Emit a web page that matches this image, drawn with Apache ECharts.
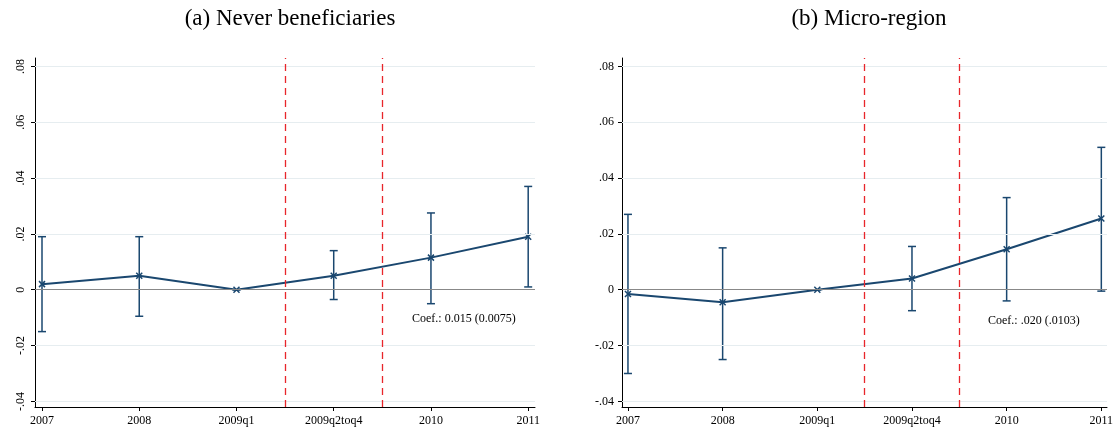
<!DOCTYPE html>
<html>
<head>
<meta charset="utf-8">
<script src="https://cdn.jsdelivr.net/npm/echarts@6/dist/echarts.min.js"></script>
</head>
<body style="margin:0;background:#fff">
<div id="chart" style="width:1117px;height:441px"></div>
<script>
var categories = ['2007', '2008', '2009q1', '2009q2toq4', '2010', '2011'];
var coefA = [0.002, 0.005, 0, 0.005, 0.0115, 0.019];
var lowA = [-0.015, -0.0095, 0, -0.0035, -0.005, 0.001];
var highA = [0.019, 0.019, 0, 0.014, 0.0275, 0.037];
var coefB = [-0.0015, -0.0045, 0, 0.004, 0.0145, 0.0255];
var lowB = [-0.030, -0.025, 0, -0.0075, -0.004, -0.0005];
var highB = [0.027, 0.015, 0, 0.0155, 0.033, 0.051];
var yTicks = [-0.04, -0.02, 0, 0.02, 0.04, 0.06, 0.08];
var vlines = [2.5, 3.5];
var navy = '#1a476f';
var serif = 'Liberation Serif';

function fmt(v) {
    if (v === 0) return '0';
    return (v < 0 ? '-' : '') + String(Math.abs(v).toFixed(2)).replace(/^0/, '');
}

function panel(i, left, width, xmin, xmax, rot) {
    return {
        grid: { left: left, top: 58, width: width, height: 349 },
        xAxis: {
            gridIndex: i, type: 'value', min: xmin, max: xmax, interval: 1,
            axisLine: { show: true, onZero: false, lineStyle: { color: '#000' } },
            axisTick: { show: true, length: 4, lineStyle: { color: '#000' }, customValues: [0, 1, 2, 3, 4, 5] },
            axisLabel: { color: '#000', fontFamily: serif, fontSize: 12, customValues: [0, 1, 2, 3, 4, 5],
                formatter: function (v) { return categories[Math.round(v)]; } },
            splitLine: { show: false }
        },
        yAxis: {
            gridIndex: i, type: 'value', min: -0.042, max: 0.083,
            axisLine: { show: true, onZero: false, lineStyle: { color: '#000' } },
            axisTick: { show: true, length: 4, lineStyle: { color: '#000' }, customValues: yTicks },
            axisLabel: { color: '#000', fontFamily: serif, fontSize: 12, rotate: rot, customValues: yTicks, formatter: fmt },
            splitLine: { show: false }
        }
    };
}

var pA = panel(0, 35, 500, -0.072, 5.07, 90);
var pB = panel(1, 622, 485, -0.063, 5.06, 0);

function seriesFor(i, coef, low, high) {
    var pts = coef.map(function (v, k) { return [k, v]; });
    var bars = coef.map(function (v, k) { return [k, low[k], high[k]]; });
    return [
        { type: 'line', xAxisIndex: i, yAxisIndex: i, silent: true, data: [],
          markLine: { symbol: 'none', silent: true, label: { show: false },
            data: yTicks.filter(function (t) { return t !== 0; }).map(function (t) {
                return { yAxis: t, lineStyle: { color: '#e6edf0', type: 'solid', width: 1 } }; })
              .concat([{ yAxis: 0, lineStyle: { color: '#888', type: 'solid', width: 1 } }])
              .concat(vlines.map(function (x) { return { xAxis: x, lineStyle: { color: '#e8262b', type: [7, 5], width: 1.3 } }; })) } },
        { type: 'custom', xAxisIndex: i, yAxisIndex: i, data: bars,
          renderItem: function (params, api) {
              var x = api.value(0);
              var a = api.coord([x, api.value(1)]);
              var b = api.coord([x, api.value(2)]);
              var s = { stroke: navy, lineWidth: 1.5 };
              return { type: 'group', children: [
                  { type: 'line', shape: { x1: a[0], y1: a[1], x2: b[0], y2: b[1] }, style: s },
                  { type: 'line', shape: { x1: a[0] - 4, y1: a[1], x2: a[0] + 4, y2: a[1] }, style: s },
                  { type: 'line', shape: { x1: b[0] - 4, y1: b[1], x2: b[0] + 4, y2: b[1] }, style: s }
              ] };
          } },
        { type: 'line', xAxisIndex: i, yAxisIndex: i, data: pts,
          lineStyle: { color: navy, width: 2 },
          symbol: 'path://M0,0L10,10M10,0L0,10', symbolSize: 6,
          itemStyle: { color: navy, borderColor: navy, borderWidth: 1.5 } }
    ];
}

var option = {
    animation: false,
    title: [
        { text: '(a) Never beneficiaries', left: 285, top: 2, textAlign: 'center',
          textStyle: { fontFamily: serif, fontWeight: 'normal', fontSize: 23, color: '#000' } },
        { text: '(b) Micro-region', left: 864, top: 2, textAlign: 'center',
          textStyle: { fontFamily: serif, fontWeight: 'normal', fontSize: 23, color: '#000' } }
    ],
    graphic: [
        { type: 'text', left: 412, top: 313, style: { text: 'Coef.: 0.015 (0.0075)', font: '12px "Liberation Serif"', fill: '#000' } },
        { type: 'text', left: 988, top: 315, style: { text: 'Coef.: .020 (.0103)', font: '12px "Liberation Serif"', fill: '#000' } }
    ],
    grid: [pA.grid, pB.grid],
    xAxis: [pA.xAxis, pB.xAxis],
    yAxis: [pA.yAxis, pB.yAxis],
    series: seriesFor(0, coefA, lowA, highA).concat(seriesFor(1, coefB, lowB, highB))
};

echarts.init(document.getElementById('chart')).setOption(option);
</script>
</body>
</html>
